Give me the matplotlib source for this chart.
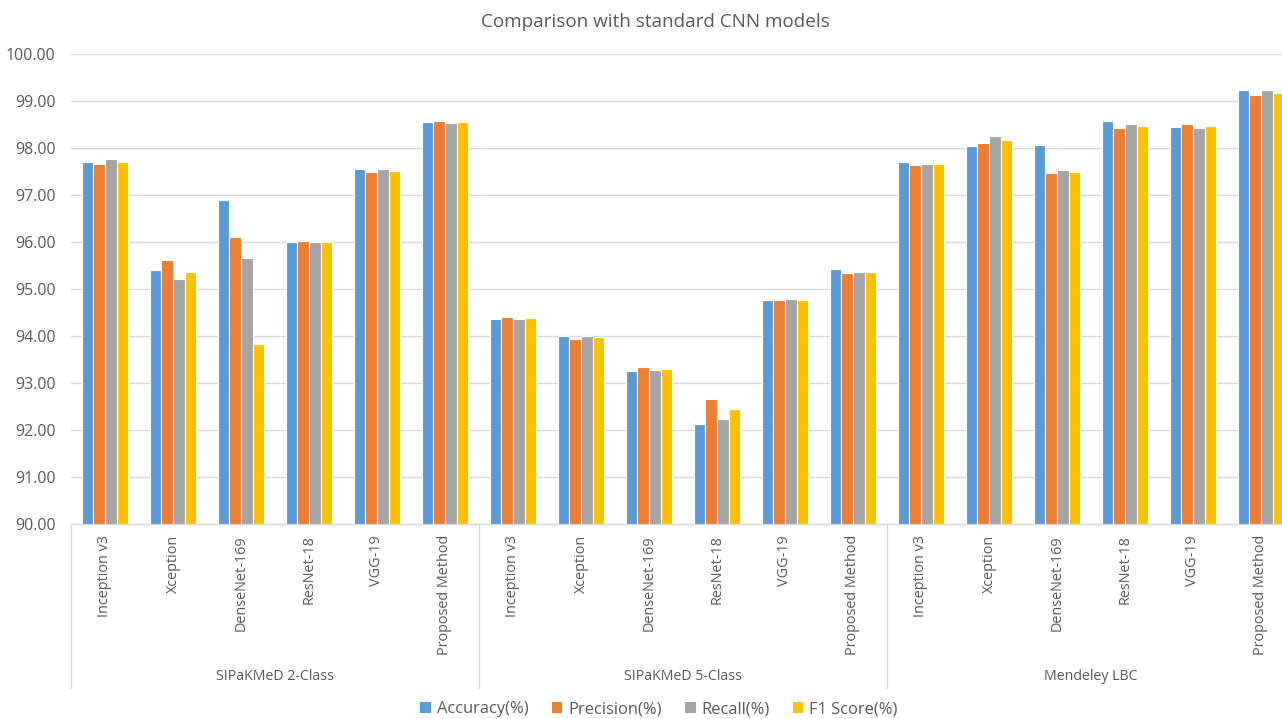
import matplotlib
matplotlib.use("Agg")
import matplotlib.pyplot as plt
import matplotlib.transforms as mtransforms
from matplotlib.patches import Patch
import numpy as np

plt.rcParams['font.family'] = ['Open Sans', 'DejaVu Sans']

datasets = ["SIPaKMeD 2-Class", "SIPaKMeD 5-Class", "Mendeley LBC"]
models = ["Inception v3", "Xception", "DenseNet-169", "ResNet-18", "VGG-19", "Proposed Method"]
series_names = ["Accuracy(%)", "Precision(%)", "Recall(%)", "F1 Score(%)"]

accuracy = [97.71, 95.41, 96.89, 95.99, 97.56, 98.55,
            94.36, 94.00, 93.26, 92.13, 94.77, 95.43,
            97.70, 98.04, 98.07, 98.57, 98.45, 99.23]
precision = [97.66, 95.62, 96.11, 96.02, 97.48, 98.57,
             94.40, 93.94, 93.34, 92.65, 94.76, 95.34,
             97.64, 98.11, 97.46, 98.43, 98.51, 99.13]
recall = [97.76, 95.22, 95.65, 95.99, 97.56, 98.53,
          94.37, 94.00, 93.27, 92.23, 94.78, 95.37,
          97.67, 98.26, 97.53, 98.51, 98.43, 99.23]
f1_score = [97.71, 95.37, 93.82, 96.00, 97.52, 98.55,
            94.38, 93.97, 93.30, 92.44, 94.77, 95.36,
            97.66, 98.18, 97.50, 98.47, 98.47, 99.18]

colors = ["#5B9BD5", "#ED7D31", "#A5A5A5", "#FFC000"]
text_color = "#595959"
grid_color = "#D9D9D9"

W, H = 1282, 719
fig = plt.figure(figsize=(W / 100, H / 100), dpi=100)
left_px, right_px, top_px, bottom_px = 71, 1295, 54, 524
ax = fig.add_axes([left_px / W, 1 - bottom_px / H,
                   (right_px - left_px) / W, (bottom_px - top_px) / H])

n_cat = len(datasets) * len(models)
x = np.arange(n_cat)
bar_w = 0.172
values = [accuracy, precision, recall, f1_score]
for i, (vals, col) in enumerate(zip(values, colors)):
    offs = (i - 1.5) * bar_w
    heights = np.array(vals) - 90.0
    ax.bar(x + offs, heights, width=bar_w, bottom=90.0, color=col,
           edgecolor="white", linewidth=0.8, zorder=3)

ax.set_xlim(-0.5, n_cat - 0.5)
ax.set_ylim(90, 100)
ax.set_yticks(np.arange(90, 100.01, 1))
ax.set_yticklabels([f"{v:.2f}" for v in np.arange(90, 100.01, 1)])
ax.tick_params(axis='y', length=0, pad=11, labelsize=11.5, labelcolor=text_color)
ax.yaxis.grid(True, color=grid_color, linewidth=1, zorder=0)
for s in ["top", "right", "left"]:
    ax.spines[s].set_visible(False)
ax.spines["bottom"].set_color(grid_color)
ax.spines["bottom"].set_linewidth(1)

ax.set_xticks([])
trans = mtransforms.blended_transform_factory(ax.transData, ax.transAxes)
axes_h = bottom_px - top_px
for k in range(n_cat):
    ax.text(x[k], -11 / axes_h, models[k % len(models)], rotation=90,
            ha='center', va='top', fontsize=10.4, color=text_color,
            transform=trans, clip_on=False)

sep_bottom = -(688 - bottom_px) / axes_h
for g in range(len(datasets) + 1):
    xs = g * len(models) - 0.5
    ax.plot([xs, xs], [0, sep_bottom], color=grid_color, linewidth=1,
            transform=trans, clip_on=False)
for g, name in enumerate(datasets):
    xc = g * len(models) + (len(models) - 1) / 2
    ax.text(xc, -(677 - bottom_px) / axes_h, name, ha='center', va='center',
            fontsize=10.2, color=text_color, transform=trans, clip_on=False)

fig.text(655 / W, 1 - 22 / H, "Comparison with standard CNN models",
         ha='center', va='center', fontsize=13.6, color=text_color)

handles = [Patch(facecolor=c, edgecolor='none') for c in colors]
fig.legend(handles, series_names, loc='center', ncol=4,
           bbox_to_anchor=(659 / W, 1 - 709 / H), frameon=False,
           fontsize=11.9, handlelength=0.65, handleheight=0.65,
           handletextpad=0.35, columnspacing=1.4, labelcolor=text_color)

fig.savefig("out.png", dpi=100)
